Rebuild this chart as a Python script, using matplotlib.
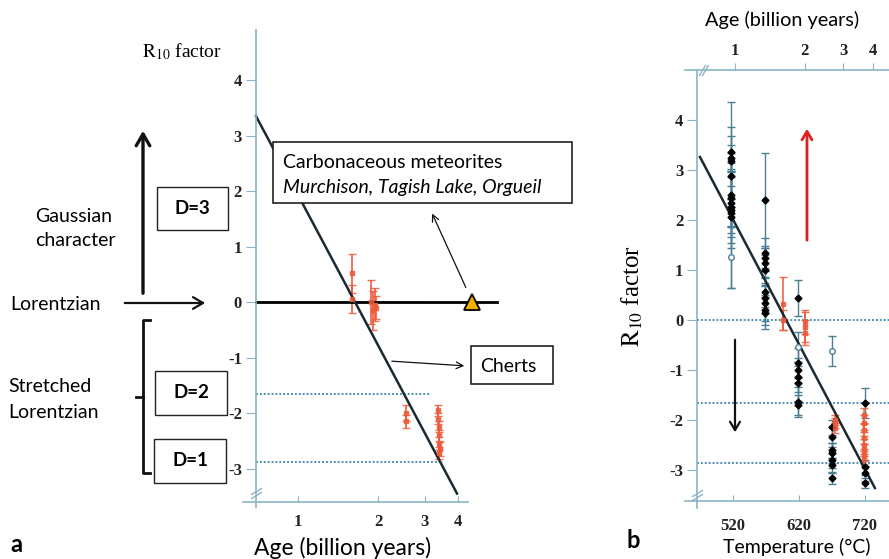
import numpy as np
import matplotlib.pyplot as plt
from matplotlib.patches import Rectangle, FancyArrowPatch
from matplotlib.lines import Line2D

plt.rcParams['mathtext.fontset'] = 'stix'

W, H = 889, 559

# ---------------- panel a data ----------------
age_ticks_a = [1, 2, 3, 4]
r_ticks = [4, 3, 2, 1, 0, -1, -2, -3]

red_age_a = [1.60, 1.60, 1.88, 1.92, 1.95, 1.97, 2.55, 2.55, 3.35, 3.35, 3.38, 3.40, 3.40, 3.42, 3.38]
red_r_a = [0.52, 0.05, 0.0, -0.15, -0.05, -0.1, -2.0, -2.15, -1.95, -2.1, -2.25, -2.4, -2.55, -2.65, -2.72]
red_err_a = [0.35, 0.25, 0.4, 0.35, 0.3, 0.2, 0.15, 0.12, 0.1, 0.1, 0.1, 0.1, 0.12, 0.12, 0.1]

fit_age_a = [0.695, 3.96]
fit_r_a = [3.35, -3.45]

meteor_age = [0.695, 5.6]
meteor_r = [0, 0]
triangle_age = 4.51
triangle_r = 0

d_levels = [-1.66, -2.88]
d_ends_a = [3.14, 3.5]

# ---------------- panel b data ----------------
temp_ticks = [520, 620, 720]
age_top_labels = ['1', '2', '3', '4']
age_top_temp = [523, 629, 687, 732]

blk_t = ([517] * 11 + [568] * 10 + [618] * 7 + [670] * 7 + [720] * 4)
blk_r = [3.36, 3.24, 3.18, 2.88, 2.5, 2.44, 2.34, 2.26, 2.2, 2.14, 2.06,
         2.4, 1.34, 1.24, 1.14, 1.0, 0.56, 0.44, 0.34, 0.2, 0.14,
         0.44, -0.86, -1.0, -1.14, -1.26, -1.64, -1.7,
         -2.14, -2.34, -2.6, -2.66, -2.8, -2.9, -3.16,
         -1.66, -2.94, -3.06, -3.26]
blk_err = [0.5, 0.26, 0.5, 0.46, 1.86, 0.7, 0.68, 0.72, 0.76, 0.28, 0.2,
           0.95, 0.3, 0.25, 0.3, 0.3, 0.3, 0.3, 0.35, 0.3, 0.32,
           0.36, 0.3, 0.25, 0.3, 0.35, 0.3, 0.2,
           0.15, 0.2, 0.15, 0.2, 0.15, 0.15, 0.12,
           0.3, 0.15, 0.15, 0.1]

open_t = [517, 618, 670]
open_r = [1.26, -0.54, -0.62]
open_err = [0.62, 0.3, 0.3]

red_t = [596, 596, 629, 629, 629, 674, 674, 674,
         718, 718, 718, 718, 718, 718, 718, 718]
red_r = [0.33, 0.0, -0.04, -0.14, -0.25, -2.0, -2.06, -2.15,
         -1.9, -2.05, -2.2, -2.35, -2.5, -2.6, -2.7, -2.78]
red_err = [0.53, 0.2, 0.24, 0.3, 0.25, 0.1, 0.1, 0.1,
           0.15, 0.15, 0.12, 0.12, 0.12, 0.12, 0.12, 0.1]

fit_t_b = [470, 735]
fit_r_b = [3.26, -3.36]
d_levels_b = [0, -1.66, -2.86]

axis_col = '#8ab4c6'
dot_col = '#4f8fb0'
red = '#ec5a3a'
line_col = '#1a2a30'
tick_font = dict(family='Liberation Serif', weight='bold', size=12)
sans = 'Lato'
fs = 14


def px(x, y):
    return (x / W, 1 - y / H)


fig = plt.figure(figsize=(W / 100, H / 100), dpi=100)

# ================= panel a =================
ax = fig.add_axes([242.8 / W, 1 - 507.4 / H, 257.3 / W, 477.3 / H])
ax.set_facecolor('none')
ax.set_xscale('log')
ax.set_xlim(0.62, 5.75)
ax.set_ylim(-3.7, 4.9)
for s in ['top', 'right']:
    ax.spines[s].set_visible(False)
ax.spines['left'].set_position(('data', 0.695))
ax.spines['bottom'].set_position(('data', -3.6))
ax.spines['bottom'].set_bounds(0.62, 4.36)
for s in ['left', 'bottom']:
    ax.spines[s].set_color(axis_col)
    ax.spines[s].set_linewidth(1.2)
ax.set_yticks(r_ticks)
ax.set_yticklabels([str(v) for v in r_ticks], fontdict=tick_font, color='#222')
ax.tick_params(axis='y', direction='out', length=7, color=axis_col, pad=3)
ax.set_xticks(age_ticks_a)
ax.set_xticklabels([str(v) for v in age_ticks_a], fontdict=tick_font, color='#222')
ax.xaxis.set_minor_locator(plt.NullLocator())
ax.tick_params(axis='x', direction='in', length=4, color=axis_col, pad=9)

ax.plot([0.695, 3.0], [0, 0], ls=(0, (1, 1)), color=dot_col, lw=1.2)
for lvl, end in zip(d_levels, d_ends_a):
    ax.plot([0.695, end], [lvl, lvl], ls=(0, (1, 1)), color=dot_col, lw=1.4)
ax.errorbar(red_age_a, red_r_a, yerr=red_err_a, fmt='s', ms=2.5, color=red,
            ecolor=red, elinewidth=1.4, capsize=3, alpha=0.85)
ax.plot(meteor_age, meteor_r, color='black', lw=2)
ax.plot(fit_age_a, fit_r_a, color=line_col, lw=1.8)
ax.plot([triangle_age], [triangle_r], marker='^', ms=11, color='#f2b100',
        markeredgecolor='black', markeredgewidth=1.3, clip_on=False, zorder=5)
# axis break
ax.plot([0.695], [-3.4], marker=[(-1, -0.6), (1, 0.6)], ms=8, color=axis_col, mew=1, clip_on=False)
ax.plot([0.695], [-3.48], marker=[(-1, -0.6), (1, 0.6)], ms=8, color=axis_col, mew=1, clip_on=False)

fig.text(*px(142, 52), r'$\mathrm{R}_{10}$ factor', family='Liberation Serif', size=14, va='center')
fig.text(*px(343, 548), 'Age (billion years)', family=sans, size=16.5, ha='center', va='center')
fig.text(*px(10, 545), 'a', family=sans, weight='bold', size=17, va='center')

fig.text(*px(35, 216), 'Gaussian', family=sans, size=fs, va='center')
fig.text(*px(35, 241), 'character', family=sans, size=fs, va='center')
fig.text(*px(10, 304), 'Lorentzian', family=sans, size=fs, va='center')
fig.text(*px(8, 387), 'Stretched', family=sans, size=fs, va='center')
fig.text(*px(8, 412), 'Lorentzian', family=sans, size=fs, va='center')

fig.add_artist(FancyArrowPatch(px(143, 296), px(143, 128), transform=fig.transFigure,
                               arrowstyle='->,head_length=0.6,head_width=0.35', lw=2.4,
                               mutation_scale=14, color='#111'))
fig.add_artist(FancyArrowPatch(px(122, 303), px(208, 303), transform=fig.transFigure,
                               arrowstyle='->,head_length=0.6,head_width=0.35', lw=1.6,
                               mutation_scale=12, color='#111'))
# bracket
fig.add_artist(Line2D([px(150, 0)[0], px(143, 0)[0], px(143, 0)[0], px(150, 0)[0]],
                      [px(0, 320)[1], px(0, 320)[1], px(0, 473)[1], px(0, 473)[1]],
                      transform=fig.transFigure, color='#111', lw=2))
fig.add_artist(Line2D([px(136, 0)[0], px(143, 0)[0]], [px(0, 397)[1]] * 2,
                      transform=fig.transFigure, color='#111', lw=2))

for (x0, y0, x1, y1, lab) in [(157, 187, 228, 230, 'D=3'), (155, 371, 227, 415, 'D=2'),
                              (154, 439, 226, 483, 'D=1')]:
    fig.add_artist(Rectangle(px(x0, y1), (x1 - x0) / W, (y1 - y0) / H, transform=fig.transFigure,
                             facecolor='none', edgecolor='#222', lw=1))
    fig.text(*px((x0 + x1) / 2, (y0 + y1) / 2), lab, family=sans, weight='bold', size=13.5,
             ha='center', va='center')

fig.add_artist(Rectangle(px(273, 203), (572 - 273) / W, (203 - 142) / H, transform=fig.transFigure,
                         facecolor='white', edgecolor='#222', lw=1.2, zorder=2))
fig.text(*px(283, 162), 'Carbonaceous meteorites', family=sans, size=fs, va='center', zorder=3)
fig.text(*px(283, 188), 'Murchison, Tagish Lake, Orgueil', family=sans, style='italic', size=fs,
         va='center', zorder=3)
fig.add_artist(Rectangle(px(471, 384), (553 - 471) / W, (384 - 346) / H, transform=fig.transFigure,
                         facecolor='white', edgecolor='#222', lw=1.2, zorder=2))
fig.text(*px(480, 366), 'Cherts', family=sans, size=fs, va='center', zorder=3)

fig.add_artist(FancyArrowPatch(px(467, 290), px(431, 211), transform=fig.transFigure,
                               arrowstyle='->', lw=0.9, mutation_scale=12, color='#111'))
fig.add_artist(FancyArrowPatch(px(389, 361), px(467, 366), transform=fig.transFigure,
                               arrowstyle='->', lw=0.9, mutation_scale=12, color='#111'))

# ================= panel b =================
bx = fig.add_axes([684.8 / W, 1 - 507.5 / H, (904.6 - 684.8) / W, 437.5 / H])
bx.set_facecolor('none')
bx.set_xlim(447, 780)
bx.set_ylim(-3.75, 5.0)
for s in ['top', 'right']:
    bx.spines[s].set_visible(False)
bx.spines['left'].set_position(('data', 466))
bx.spines['bottom'].set_position(('data', -3.62))
for s in ['left', 'bottom']:
    bx.spines[s].set_color(axis_col)
    bx.spines[s].set_linewidth(1.2)
bx.set_yticks(r_ticks)
bx.set_yticklabels([str(v) for v in r_ticks], fontdict=tick_font, color='#222')
bx.tick_params(axis='y', direction='out', length=7, color=axis_col, pad=3)
bx.set_xticks(temp_ticks)
bx.set_xticklabels([str(v) for v in temp_ticks], fontdict=tick_font, color='#222')
bx.tick_params(axis='x', direction='in', length=4, color=axis_col, pad=12)

top = bx.secondary_xaxis('top')
top.set_xticks(age_top_temp)
top.set_xticklabels(age_top_labels, fontdict=tick_font, color='#222')
top.tick_params(direction='out', length=5, color=axis_col, pad=3)
top.spines['top'].set_color(axis_col)
top.spines['top'].set_linewidth(1.2)

for lvl in d_levels_b:
    bx.axhline(lvl, xmin=(466 - 447) / (780 - 447), ls=(0, (1, 1)), color=dot_col, lw=1.4)

bx.errorbar(blk_t, blk_r, yerr=blk_err, fmt='D', ms=3.5, color='black', ecolor='#4d7f93',
            elinewidth=1, capsize=3)
bx.errorbar(open_t, open_r, yerr=open_err, fmt='o', ms=4, mfc='white', mec='#4d7f93',
            ecolor='#4d7f93', elinewidth=1, capsize=3)
bx.errorbar(red_t, red_r, yerr=red_err, fmt='s', ms=2.5, color=red, ecolor=red,
            elinewidth=1.3, capsize=3, alpha=0.85)
bx.plot(fit_t_b, fit_r_b, color=line_col, lw=1.8)

# axis breaks
bx.plot([466], [-3.45], marker=[(-1, -0.6), (1, 0.6)], ms=8, color=axis_col, mew=1, clip_on=False)
bx.plot([466], [-3.53], marker=[(-1, -0.6), (1, 0.6)], ms=8, color=axis_col, mew=1, clip_on=False)
bx.plot([473], [5.0], marker=[(-0.6, -1), (0.6, 1)], ms=8, color=axis_col, mew=1, clip_on=False)
bx.plot([478], [5.0], marker=[(-0.6, -1), (0.6, 1)], ms=8, color=axis_col, mew=1, clip_on=False)

fig.add_artist(FancyArrowPatch(px(807, 243), px(807, 126), transform=fig.transFigure,
                               arrowstyle='->,head_length=0.5,head_width=0.3', lw=2,
                               mutation_scale=12, color='#e02020'))
fig.add_artist(FancyArrowPatch(px(735, 337), px(735, 435), transform=fig.transFigure,
                               arrowstyle='->,head_length=0.5,head_width=0.3', lw=1.6,
                               mutation_scale=12, color='#111'))

fig.text(*px(782, 20), 'Age (billion years)', family=sans, size=14.3, ha='center', va='center')
fig.text(*px(797, 547), 'Temperature (°C)', family=sans, size=14, ha='center', va='center')
fig.text(*px(632, 296), r'$\mathrm{R}_{10}$ factor', family='Liberation Serif', size=18,
         rotation=90, ha='center', va='center')
fig.text(*px(626, 540), 'b', family=sans, weight='bold', size=17, va='center')

fig.savefig('out.png', dpi=100)
